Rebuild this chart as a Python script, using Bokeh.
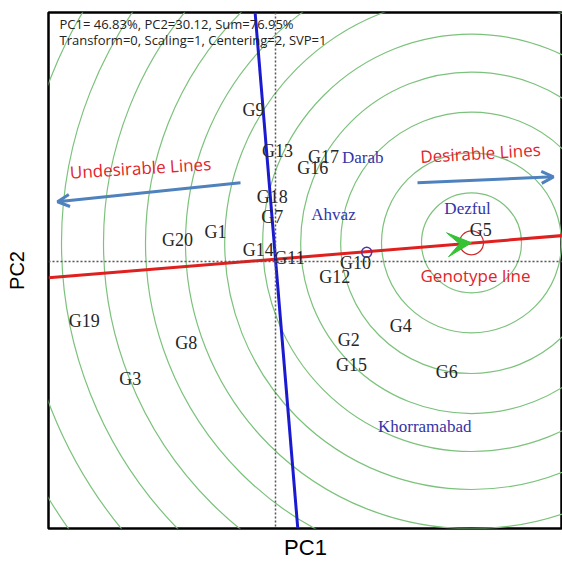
import numpy as np
from bokeh.plotting import figure
from bokeh.models import Span, Arrow, VeeHead, OpenHead, FixedTicker
from bokeh.core.properties import value
from bokeh.embed import file_html
from bokeh.resources import INLINE

# ---- data (biplot scores) ----
genotypes = ["G1", "G2", "G3", "G4", "G5", "G6", "G7", "G8", "G9", "G10",
             "G11", "G12", "G13", "G14", "G15", "G16", "G17", "G18", "G19", "G20"]
g_pc1 = [-1.50, 1.83, -3.63, 3.13, 5.13, 4.28, -0.08, -2.23, -0.55, 2.00,
         0.35, 1.48, 0.05, -0.43, 1.90, 0.93, 1.20, -0.08, -4.78, -2.45]
g_pc2 = [0.75, -1.98, -2.95, -1.63, 0.80, -2.78, 1.13, -2.05, 3.80, -0.03,
         0.08, -0.40, 2.78, 0.30, -2.60, 2.35, 2.63, 1.63, -1.48, 0.55]

environments = ["Darab", "Ahvaz", "Dezful", "Khorramabad"]
e_pc1 = [2.18, 1.45, 4.80, 3.73]
e_pc2 = [2.60, 1.18, 1.33, -4.15]

ideal_pc1 = [4.90]
ideal_pc2 = [0.47]
ideal_radius = [0.30]
mean_env_pc1 = [2.28]
mean_env_pc2 = [0.23]

circle_radii = [1.25, 2.25, 3.27, 4.27, 5.22, 6.17, 7.15, 8.15, 9.2, 10.25, 11.3, 12.35, 13.4]

aea_intercept = 0.06
aea_slope = 0.0824

info_lines = ["PC1= 46.83%, PC2=30.12, Sum=76.95%",
              "Transform=0, Scaling=1, Centering=2, SVP=1"]

x_lo, x_hi = -5.675, 7.175
y_lo, y_hi = -6.70, 6.25

p = figure(width=562, height=562, output_backend="svg", toolbar_location=None,
           x_range=(x_lo, x_hi), y_range=(y_lo, y_hi),
           min_border_left=48, min_border_right=0, min_border_top=12, min_border_bottom=32)
p.grid.visible = False
p.outline_line_color = "black"
p.outline_line_width = 2.5
p.background_fill_color = "white"
p.border_fill_color = "white"

for ax in (p.xaxis[0], p.yaxis[0]):
    ax.ticker = FixedTicker(ticks=[])
    ax.major_tick_line_color = None
    ax.minor_tick_line_color = None
    ax.axis_line_color = None
    ax.major_label_text_font_size = "0px"
    ax.axis_label_text_font = "Liberation Sans"
    ax.axis_label_text_font_style = "normal"
    ax.axis_label_text_color = "black"
p.xaxis.axis_label = "PC1"
p.yaxis.axis_label = "PC2"
p.xaxis.axis_label_text_font_size = "22px"
p.yaxis.axis_label_text_font_size = "20px"
p.xaxis.axis_label_standoff = 6
p.yaxis.axis_label_standoff = 21

# concentric circles around the ideal genotype
n = len(circle_radii)
p.circle(x=ideal_pc1 * n, y=ideal_pc2 * n, radius=circle_radii,
         fill_color=None, line_color="#7cc27c", line_width=1.2)

# dotted axes through origin
p.add_layout(Span(location=0, dimension="height", line_color="#555555",
                  line_dash="2 2", line_width=1.5))
p.add_layout(Span(location=0, dimension="width", line_color="#555555",
                  line_dash="2 2", line_width=1.5))

# average environment axis (red) and its orthogonal (blue)
aea_x = np.array([x_lo, x_hi])
p.line(aea_x, aea_intercept + aea_slope * aea_x, line_color="#e01f1f", line_width=3)
ord_y = np.array([y_lo, y_hi])
p.line(-(ord_y - aea_intercept) * aea_slope, ord_y, line_color="#1a1ad0", line_width=3)

# ideal genotype marker and arrow head
p.circle(x=ideal_pc1, y=ideal_pc2, radius=ideal_radius, fill_color=None,
         line_color="#cc2a2a", line_width=1.2)
p.add_layout(Arrow(end=VeeHead(size=24, fill_color="#35c235", line_color="#35c235"),
                   x_start=ideal_pc1[0] - 0.6, y_start=ideal_pc2[0] - 0.6 * aea_slope,
                   x_end=ideal_pc1[0], y_end=ideal_pc2[0], line_alpha=0))
p.scatter(x=mean_env_pc1, y=mean_env_pc2, size=10, marker="circle", fill_color=None,
          line_color="#4a3aa8", line_width=1.5)

# genotype and environment labels
p.text(x=g_pc1, y=g_pc2, text=genotypes, text_align="center", text_baseline="middle",
       text_font=value("Liberation Serif"), text_font_size="18px", text_color="#262626")
p.text(x=e_pc1, y=e_pc2, text=environments, text_align="center", text_baseline="middle",
       text_font=value("Liberation Serif"), text_font_size="17px", text_color="#3434a8")

# info text
p.text(x=[-5.4, -5.4], y=[5.95, 5.55], text=info_lines, text_align="left",
       text_baseline="middle", text_font=value("Open Sans"), text_font_size="13px",
       text_color="#222222")

# desirable / undesirable annotations
tilt = np.deg2rad(3.5)
p.text(x=[-3.375, 5.125, 5.0], y=[2.35, 2.725, -0.35],
       text=["Undesirable Lines", "Desirable Lines", "Genotype line"],
       angle=[tilt, tilt, 0.0], text_align="center", text_baseline="middle",
       text_font=value("Open Sans"), text_font_size="17px", text_color="#e3232a")
p.add_layout(Arrow(end=OpenHead(size=12, line_color="#4f81bd", line_width=3),
                   x_start=-0.875, y_start=1.975, x_end=-5.45, y_end=1.5,
                   line_color="#4f81bd", line_width=3))
p.add_layout(Arrow(end=OpenHead(size=12, line_color="#4f81bd", line_width=3),
                   x_start=3.55, y_start=1.975, x_end=6.95, y_end=2.125,
                   line_color="#4f81bd", line_width=3))

open("out.html", "w").write(file_html(p, INLINE))
